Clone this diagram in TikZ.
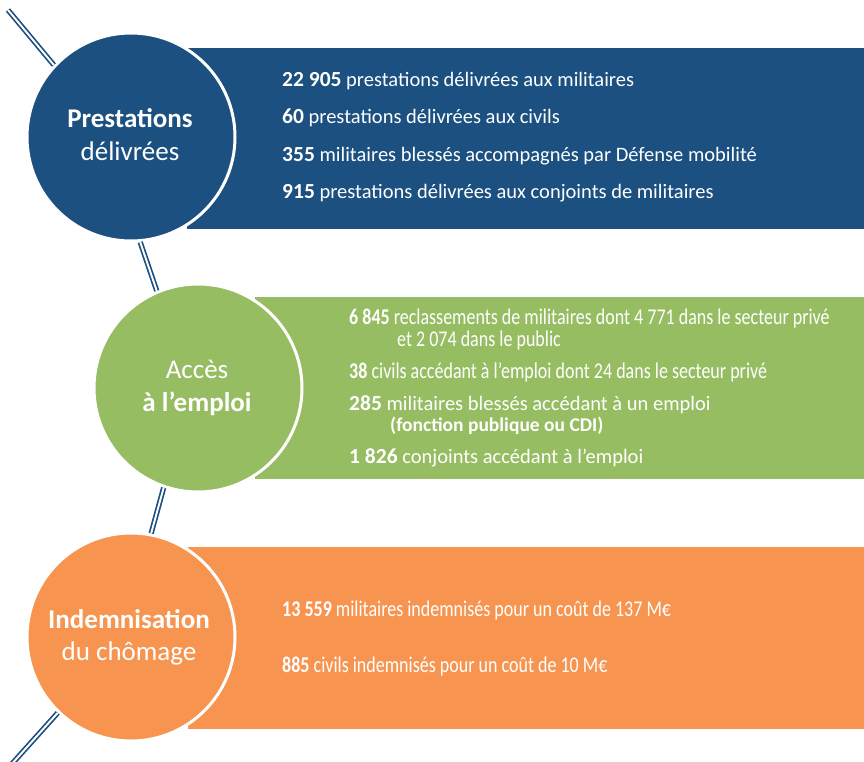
\documentclass[tikz,border=0pt]{standalone}
\usepackage{fontspec}
\setmainfont{Carlito}
\newfontfamily\cond[FakeStretch=0.8]{Carlito}
\definecolor{navy}{RGB}{27,80,128}
\definecolor{leaf}{RGB}{151,189,99}
\definecolor{peach}{RGB}{247,149,80}
\begin{document}
\begin{tikzpicture}[x=1pt,y=-1pt,
  band/.style={draw=none, rectangle, inner sep=0pt, outer sep=0pt, anchor=north west},
  disc/.style={circle, draw=white, line width=3pt, minimum size=208pt, inner sep=0pt},
  title/.style={text=white, inner sep=0pt, anchor=base, font=\fontsize{27}{32}\selectfont},
  line/.style={text=white, inner sep=0pt, anchor=base west, font=\fontsize{20.5}{24}\selectfont},
  cline/.style={text=white, inner sep=0pt, anchor=base west, font=\cond\fontsize{22.5}{26}\selectfont},
  conn/.style={draw=navy, double=white, line width=1.7pt, double distance=1.9pt}
]
\useasboundingbox (0,0) rectangle (864,762);
% bands
\node[band, fill=navy, minimum width=677pt, minimum height=181pt] (b1) at (187,48) {};
\node[band, fill=leaf, minimum width=609pt, minimum height=182pt] (b2) at (255,297) {};
\node[band, fill=peach, minimum width=676pt, minimum height=182pt] (b3) at (188,547) {};
% circles
\node[disc, fill=navy] (c1) at (131,137) {};
\node[disc, fill=leaf] (c2) at (198,388) {};
\node[disc, fill=peach] (c3) at (131,637) {};
% connectors
\coordinate (top) at (8,10);
\coordinate (bot) at (10,766);
\draw[conn] (top) -- (c1.137);
\draw[conn] (c1.-85) -- (c2.113);
\draw[conn] (c2.-109) -- (c3.79);
\draw[conn] (c3.-134) -- (bot);
% circle titles
\node[title] (t1a) at (130,128) {\bfseries Prestations};
\node[title] (t1b) at (130,161) {délivrées};
\node[title] (t2a) at (197,378) {Accès};
\node[title] (t2b) at (197,411) {\bfseries à l’emploi};
\node[title] (t3a) at (129,628) {\bfseries Indemnisation};
\node[title] (t3b) at (129,660) {du chômage};
% blue lines
\node[line] (l11) at (282,87) {{\bfseries\fontsize{21.5}{24}\selectfont 22 905} prestations délivrées aux militaires};
\node[line] (l12) at (282,124) {{\bfseries\fontsize{21.5}{24}\selectfont 60} prestations délivrées aux civils};
\node[line] (l13) at (282,162) {{\bfseries\fontsize{21.5}{24}\selectfont 355} militaires blessés accompagnés par Défense mobilité};
\node[line] (l14) at (282,198) {{\bfseries\fontsize{21.5}{24}\selectfont 915} prestations délivrées aux conjoints de militaires};
% green lines
\node[cline] (l21) at (349,324) {{\bfseries 6 845} reclassements de militaires dont 4 771 dans le secteur privé};
\node[cline] (l21b) at (397,346) {et 2 074 dans le public};
\node[cline] (l22) at (349,378) {{\bfseries 38} civils accédant à l’emploi dont 24 dans le secteur privé};
\node[line] (l23) at (349,410) {{\bfseries\fontsize{21.5}{24}\selectfont 285} militaires blessés accédant à un emploi};
\node[line, font=\bfseries\fontsize{19.5}{22}\selectfont] (l23b) at (390,431) {(fonction publique ou CDI)};
\node[line] (l24) at (349,463) {{\bfseries\fontsize{21.5}{24}\selectfont 1 826} conjoints accédant à l’emploi};
% orange lines
\node[cline] (l31) at (282,616) {{\bfseries 13 559} militaires indemnisés pour un coût de 137 M€};
\node[cline] (l32) at (282,672) {{\bfseries 885} civils indemnisés pour un coût de 10 M€};
\end{tikzpicture}
\end{document}
